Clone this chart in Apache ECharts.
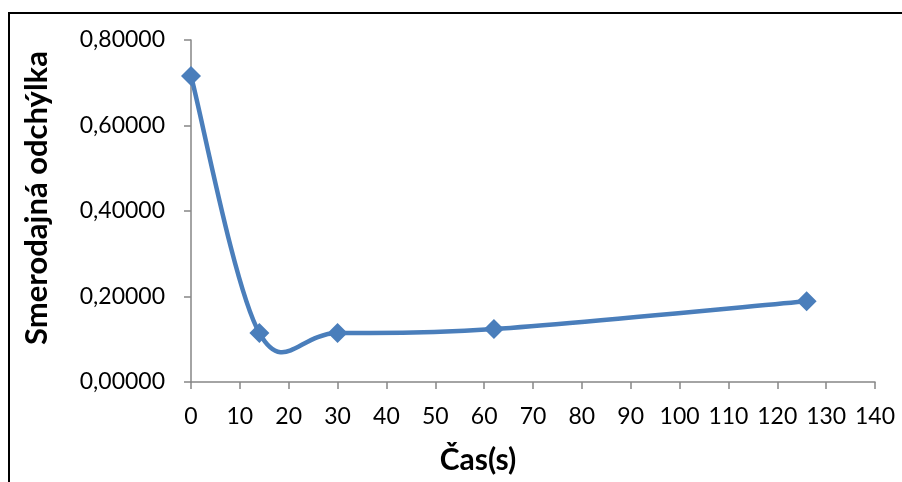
<!DOCTYPE html>
<html>
<head>
<meta charset="utf-8">
<script src="https://cdn.jsdelivr.net/npm/echarts@6/dist/echarts.min.js"></script>
<style>
  html, body { margin: 0; padding: 0; background: #fff; }
  #chart { width: 902px; height: 482px; }
</style>
</head>
<body>
<div id="chart"></div>
<script>
// Measurement times (s) and standard deviation at each time
const casy = [0, 14, 30, 62, 126];
const odchylky = [0.716, 0.1145, 0.1145, 0.124, 0.189];

const nazovY = 'Smerodajná odchýlka';
const nazovX = 'Čas(s)';

const font = 'Lato, "Open Sans", sans-serif';
const axisGray = '#868686';
const lineBlue = '#4a7ebb';

// Catmull-Rom style cubic Bezier through the points (control arms = neighbour span / 6)
function smoothPath(pts) {
  let d = 'M' + pts[0][0] + ' ' + pts[0][1];
  for (let i = 0; i < pts.length - 1; i++) {
    const p0 = pts[Math.max(i - 1, 0)];
    const p1 = pts[i];
    const p2 = pts[i + 1];
    const p3 = pts[Math.min(i + 2, pts.length - 1)];
    const c1 = [p1[0] + (p2[0] - p0[0]) / 6, p1[1] + (p2[1] - p0[1]) / 6];
    const c2 = [p2[0] - (p3[0] - p1[0]) / 6, p2[1] - (p3[1] - p1[1]) / 6];
    d += ' C' + c1[0] + ' ' + c1[1] + ' ' + c2[0] + ' ' + c2[1] + ' ' + p2[0] + ' ' + p2[1];
  }
  return d;
}

const chart = echarts.init(document.getElementById('chart'), null, { renderer: 'canvas' });

const axisCommon = {
  axisLine: { show: true, lineStyle: { color: axisGray, width: 1.5 } },
  axisTick: { show: true, inside: false, length: 7, lineStyle: { color: axisGray, width: 1.5 } },
  splitLine: { show: false }
};

chart.setOption({
  backgroundColor: '#fff',
  animation: false,
  grid: { left: 191, right: 27, top: 40, bottom: 100, containLabel: false },
  xAxis: Object.assign({
    type: 'value',
    min: 0, max: 140, interval: 10,
    axisLabel: { color: '#000', fontFamily: font, fontSize: 23, margin: 23 }
  }, axisCommon),
  yAxis: Object.assign({
    type: 'value',
    min: 0, max: 0.8, interval: 0.2,
    axisLabel: {
      color: '#000', fontFamily: font, fontSize: 23, margin: 26,
      formatter: v => v.toFixed(5).replace('.', ',')
    }
  }, axisCommon),
  series: [
    {
      // smoothed connecting curve
      type: 'custom',
      data: [[0, 0]],
      silent: true,
      z: 2,
      renderItem: function (params, api) {
        const pts = casy.map((t, i) => api.coord([t, odchylky[i]]));
        return {
          type: 'path',
          shape: { pathData: smoothPath(pts) },
          style: { stroke: lineBlue, lineWidth: 4.5, fill: 'none', lineJoin: 'round', lineCap: 'round' }
        };
      }
    },
    {
      // diamond markers
      type: 'scatter',
      data: casy.map((t, i) => [t, odchylky[i]]),
      symbol: 'diamond',
      symbolSize: 20,
      itemStyle: { color: lineBlue, opacity: 1 },
      z: 3
    }
  ],
  graphic: [
    {
      type: 'polyline',
      shape: { points: [[9, 482], [9, 13], [902, 13]] },
      style: { stroke: '#000', lineWidth: 2, fill: null }
    },
    {
      type: 'text',
      x: 37, y: 198, rotation: Math.PI / 2,
      style: {
        text: nazovY, fill: '#000', font: 'bold 31px ' + font,
        textAlign: 'center', textVerticalAlign: 'middle'
      }
    },
    {
      type: 'text',
      x: 478, y: 460,
      style: {
        text: nazovX, fill: '#000', font: 'bold 30px ' + font,
        textAlign: 'center', textVerticalAlign: 'middle'
      }
    }
  ]
});
</script>
</body>
</html>
